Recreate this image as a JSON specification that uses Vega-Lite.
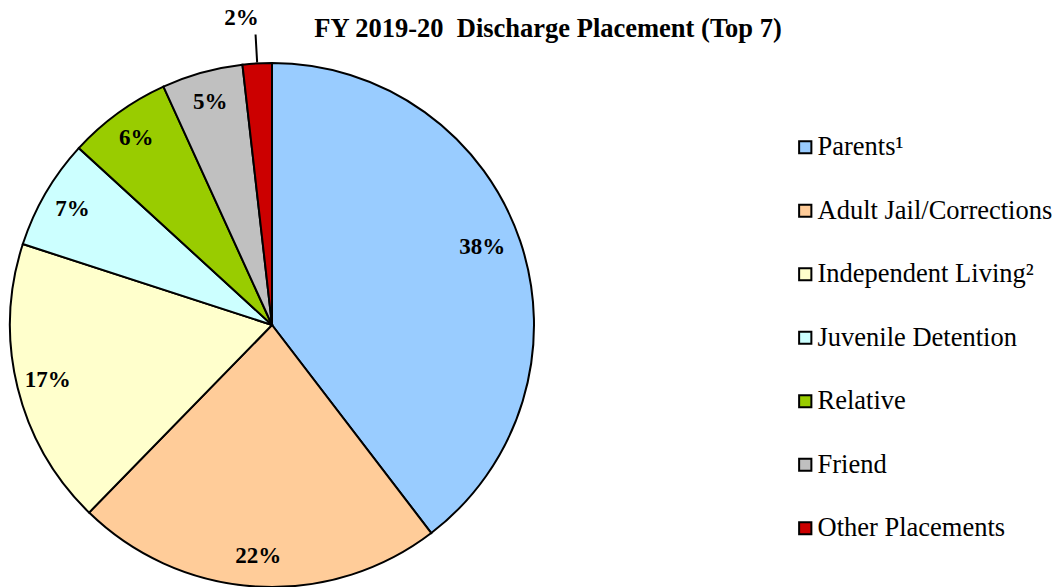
{
  "$schema": "https://vega.github.io/schema/vega-lite/v6.json",
  "width": 524,
  "height": 524,
  "autosize": "none",
  "padding": {"left": 10, "top": 63, "right": 519, "bottom": 0},
  "background": "white",
  "title": {
    "text": "FY 2019-20\u00a0 Discharge Placement (Top 7)",
    "anchor": "middle",
    "dx": 276,
    "offset": -35,
    "font": "Liberation Serif",
    "fontSize": 26.5,
    "fontWeight": "bold",
    "color": "black"
  },
  "data": {
    "values": [
      {"idx": 1, "category": "Parents¹", "value": 39.6, "label": "38%"},
      {"idx": 2, "category": "Adult Jail/Corrections", "value": 22.7, "label": "22%"},
      {"idx": 3, "category": "Independent Living²", "value": 17.7, "label": "17%"},
      {"idx": 4, "category": "Juvenile Detention", "value": 6.8, "label": "7%"},
      {"idx": 5, "category": "Relative", "value": 6.4, "label": "6%"},
      {"idx": 6, "category": "Friend", "value": 5.0, "label": "5%"},
      {"idx": 7, "category": "Other Placements", "value": 1.8, "label": "2%"}
    ]
  },
  "layer": [
    {
      "mark": {"type": "arc", "stroke": "black", "strokeWidth": 2},
      "encoding": {
        "theta": {"field": "value", "type": "quantitative", "stack": true, "scale": {"domain": [0, 100]}},
        "order": {"field": "idx", "type": "quantitative"},
        "color": {
          "field": "category",
          "type": "nominal",
          "scale": {
            "domain": ["Parents¹", "Adult Jail/Corrections", "Independent Living²", "Juvenile Detention", "Relative", "Friend", "Other Placements"],
            "range": ["#99CCFF", "#FFCC99", "#FFFFCC", "#CCFFFF", "#99CC00", "#C0C0C0", "#CC0000"]
          },
          "legend": {
            "title": null,
            "orient": "none",
            "legendX": 782,
            "legendY": 71,
            "symbolType": "square",
            "symbolSize": 150,
            "symbolStrokeColor": "black",
            "symbolStrokeWidth": 2,
            "symbolOpacity": 1,
            "labelFont": "Liberation Serif",
            "labelFontSize": 26.5,
            "labelColor": "black",
            "labelOffset": -1,
            "rowPadding": 36.5,
            "labelLimit": 400
          }
        }
      }
    },
    {
      "mark": {"type": "text", "radius": 231, "font": "Liberation Serif", "fontSize": 23, "fontWeight": "bold", "color": "black", "align": "center", "baseline": "middle"},
      "encoding": {
        "theta": {"field": "value", "type": "quantitative", "stack": true, "scale": {"domain": [0, 100]}},
        "order": {"field": "idx", "type": "quantitative"},
        "text": {"condition": {"test": "indexof(['22%','17%','7%','6%','5%'], datum.label) >= 0", "field": "label"}, "value": ""}
      }
    },
    {
      "mark": {"type": "text", "radius": 222, "dy": -7, "font": "Liberation Serif", "fontSize": 23, "fontWeight": "bold", "color": "black", "align": "center", "baseline": "middle"},
      "encoding": {
        "theta": {"field": "value", "type": "quantitative", "stack": true, "scale": {"domain": [0, 100]}},
        "order": {"field": "idx", "type": "quantitative"},
        "text": {"condition": {"test": "datum.label === '38%'", "field": "label"}, "value": ""}
      }
    },
    {
      "mark": {"type": "text", "radius": 308, "dx": -13, "dy": 1, "font": "Liberation Serif", "fontSize": 23, "fontWeight": "bold", "color": "black", "align": "center", "baseline": "middle"},
      "encoding": {
        "theta": {"field": "value", "type": "quantitative", "stack": true, "scale": {"domain": [0, 100]}},
        "order": {"field": "idx", "type": "quantitative"},
        "text": {"condition": {"test": "datum.category === 'Other Placements'", "field": "label"}, "value": ""}
      }
    },
    {
      "transform": [
        {"window": [{"op": "sum", "field": "value", "as": "cum"}], "sort": [{"field": "idx"}], "frame": [null, 0]},
        {"calculate": "datum.cum - datum.value / 2", "as": "mid"},
        {"filter": "datum.category === 'Other Placements'"}
      ],
      "mark": {"type": "arc", "radius": 291, "radius2": 263, "stroke": "black", "strokeWidth": 2, "fill": null},
      "encoding": {
        "theta": {"field": "mid", "type": "quantitative", "scale": {"domain": [0, 100]}},
        "theta2": {"field": "mid"}
      }
    }
  ],
  "config": {
    "view": {"stroke": null},
    "font": "Liberation Serif",
    "legend": {"labelFont": "Liberation Serif"}
  }
}
